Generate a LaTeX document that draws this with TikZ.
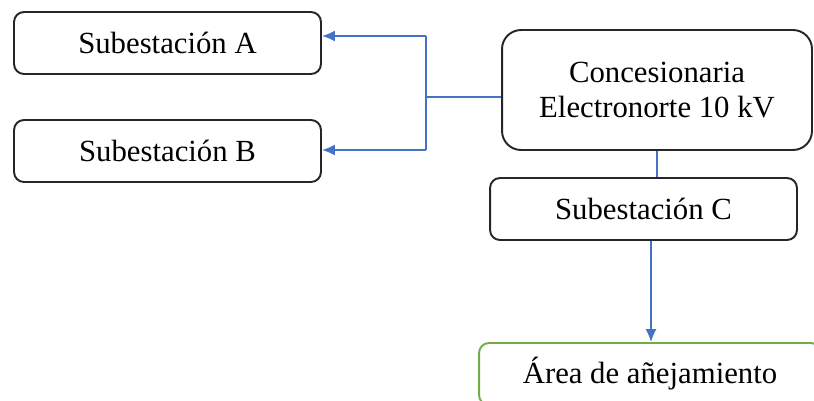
\documentclass[tikz,border=0pt]{standalone}
\usepackage{fontspec}
\setmainfont{Liberation Serif}
\usepackage{tikz}
\usetikzlibrary{arrows.meta,positioning,calc}
\definecolor{lnb}{RGB}{68,114,196}
\definecolor{lng}{RGB}{112,173,71}
\definecolor{bxk}{RGB}{38,38,38}

\begin{document}
\begin{tikzpicture}[
  x=0.02cm,y=-0.02cm,
  font=\fontsize{17.5}{19.6}\selectfont,
  box/.style={draw=bxk,line width=1.1pt,rounded corners=0.2cm,align=center,
              inner sep=0pt,minimum width=6.14cm,minimum height=1.24cm},
  goal/.style={box,draw=lng,minimum width=6.84cm},
  arr/.style={-{Latex[length=0.26cm,width=0.22cm]},draw=lnb,line width=0.85pt},
  lnk/.style={draw=lnb,line width=0.85pt}
]
\clip (0,0) rectangle (814,400);
\useasboundingbox (0,0) rectangle (814,400);
\node[box] (subA) at (167.5,43) {Subestación A};
\node[box] (subB) at (167.5,151) {Subestación B};
\node[box,rounded corners=0.38cm,minimum width=6.2cm,minimum height=2.4cm] (conc) at (657,90)
  {Concesionaria\\Electronorte 10 kV};
\node[box] (subC) at (643.5,209) {Subestación C};
\node[goal] (area) at (650,374) {Área de añejamiento};

% reparto hacia A y B
\coordinate (jn) at (426,97);
\coordinate (ja) at (426,36);
\coordinate (jb) at (426,150);
\draw[lnk] (conc.west |- jn) -- (jn);
\draw[lnk] (ja) -- (jb);
\draw[arr] (ja) -- (subA.east |- ja);
\draw[arr] (jb) -- (subB.east |- jb);

\draw[lnk] (conc.south) -- (conc.south |- subC.north);
\draw[arr] ([xshift=0.15cm]subC.south) -- ([xshift=0.15cm]subC.south |- area.north);
\end{tikzpicture}
\end{document}
